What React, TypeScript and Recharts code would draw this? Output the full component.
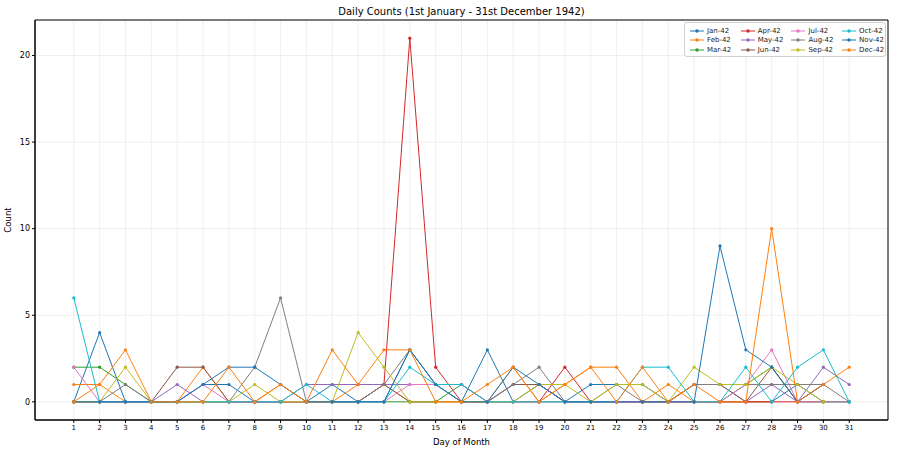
import { LineChart, Line, XAxis, YAxis, CartesianGrid, ReferenceArea, Label } from 'recharts';

const days = Array.from({ length: 31 }, (_, i) => i + 1);
const yTicks = [0, 5, 10, 15, 20];

// counts per day, one list per month (short months end early)
const jan = [0, 4, 0, 0, 0, 1, 1, 0, 0, 0, 1, 0, 0, 3, 1, 0, 3, 0, 1, 0, 1, 1, 1, 0, 0, 0, 0, 0, 1, 0, 0];
const feb = [1, 1, 0, 0, 0, 2, 0, 0, 1, 0, 0, 1, 1, 0, 0, 0, 0, 2, 0, 1, 2, 2, 0, 1, 0, 0, 0, 0];
const mar = [2, 2, 1, 0, 0, 0, 0, 0, 0, 0, 0, 0, 0, 0, 0, 1, 0, 0, 0, 0, 0, 0, 0, 0, 0, 0, 1, 2, 0, 0, 0];
const apr = [0, 0, 0, 0, 0, 0, 0, 0, 0, 0, 0, 0, 1, 21, 2, 0, 0, 0, 0, 2, 0, 0, 0, 0, 0, 0, 0, 0, 0, 1];
const may = [0, 0, 0, 0, 1, 0, 0, 0, 0, 1, 1, 1, 1, 1, 1, 1, 0, 1, 1, 0, 0, 0, 0, 0, 1, 1, 0, 1, 0, 2, 1];
const jun = [0, 0, 0, 0, 2, 2, 0, 0, 0, 0, 0, 0, 1, 0, 0, 0, 0, 1, 1, 0, 0, 0, 0, 0, 1, 1, 0, 2, 0, 0];
const jul = [2, 0, 0, 0, 0, 1, 0, 0, 0, 0, 0, 0, 0, 1, 1, 1, 0, 0, 0, 0, 0, 0, 0, 0, 0, 0, 1, 3, 0, 0, 0];
const aug = [0, 0, 1, 0, 0, 0, 0, 2, 6, 0, 0, 0, 1, 3, 1, 0, 0, 1, 2, 0, 0, 1, 0, 0, 1, 1, 1, 1, 1, 1, 0];
const sep = [0, 0, 2, 0, 0, 0, 0, 1, 0, 0, 0, 4, 2, 0, 0, 0, 0, 0, 1, 1, 0, 1, 1, 0, 2, 1, 1, 2, 1, 0];
const oct = [6, 0, 0, 0, 0, 0, 0, 0, 0, 1, 0, 0, 0, 2, 1, 1, 0, 0, 0, 0, 0, 0, 2, 2, 0, 0, 2, 0, 2, 3, 0];
const nov = [0, 0, 0, 0, 0, 1, 2, 2, 1, 0, 0, 0, 0, 3, 1, 0, 0, 2, 1, 0, 0, 0, 0, 0, 0, 9, 3, 2, 0, 1];
const dec = [0, 1, 3, 0, 0, 0, 2, 0, 1, 0, 3, 1, 3, 3, 0, 0, 1, 2, 0, 1, 2, 0, 2, 0, 1, 0, 0, 10, 0, 1, 2];

const series = [
  { key: 'Jan-42', values: jan, color: '#1f77b4' },
  { key: 'Feb-42', values: feb, color: '#ff7f0e' },
  { key: 'Mar-42', values: mar, color: '#2ca02c' },
  { key: 'Apr-42', values: apr, color: '#d62728' },
  { key: 'May-42', values: may, color: '#9467bd' },
  { key: 'Jun-42', values: jun, color: '#8c564b' },
  { key: 'Jul-42', values: jul, color: '#e377c2' },
  { key: 'Aug-42', values: aug, color: '#7f7f7f' },
  { key: 'Sep-42', values: sep, color: '#bcbd22' },
  { key: 'Oct-42', values: oct, color: '#17becf' },
  { key: 'Nov-42', values: nov, color: '#1f77b4' },
  { key: 'Dec-42', values: dec, color: '#ff7f0e' },
];

const data = days.map((d, i) => {
  const row: Record<string, number> = { day: d };
  for (const s of series) {
    if (i < s.values.length) row[s.key] = s.values[i];
  }
  return row;
});

const FONT = '"DejaVu Sans", sans-serif';

// matplotlib-style legend: 4 columns, filled column by column
const LegendBox = () => {
  const cols = [0, 1, 2, 3].map((c) => series.slice(c * 3, c * 3 + 3));
  return (
    <div
      style={{
        position: 'absolute',
        top: 22,
        left: 684,
        width: 202,
        height: 35,
        boxSizing: 'border-box',
        display: 'flex',
        padding: '3px 0 0 5px',
        border: '1px solid #d0d0d0',
        borderRadius: 3,
        background: 'rgba(255,255,255,0.85)',
        fontFamily: FONT,
        fontSize: 7,
        color: '#222',
        whiteSpace: 'nowrap',
      }}
    >
      {cols.map((col, ci) => (
        <div key={ci} style={{ display: 'flex', flexDirection: 'column', width: ci < 3 ? 52 : 44 }}>
          {col.map((s) => (
            <div key={s.key} style={{ display: 'flex', alignItems: 'center', height: 9.5 }}>
              <svg width={14} height={6} style={{ marginRight: 3 }}>
                <line x1={0} y1={3} x2={14} y2={3} stroke={s.color} strokeWidth={1} />
                <circle cx={7} cy={3} r={1.7} fill={s.color} />
              </svg>
              <span>{s.key}</span>
            </div>
          ))}
        </div>
      ))}
    </div>
  );
};

export default function App() {
  return (
    <div style={{ position: 'absolute', left: 0, top: 0, width: 900, height: 450, background: '#fff' }}>
      <div
        style={{
          position: 'absolute',
          top: 6,
          left: 35,
          width: 853,
          textAlign: 'center',
          fontFamily: FONT,
          fontSize: 10,
          color: '#000',
        }}
      >
        Daily Counts (1st January - 31st December 1942)
      </div>
      <LineChart width={900} height={450} data={data} margin={{ top: 20, right: 12, left: 0, bottom: 0 }}>
        <CartesianGrid stroke="#ebebeb" strokeWidth={0.8} />
        <XAxis
          dataKey="day"
          type="number"
          domain={[-0.5, 32.5]}
          ticks={days}
          interval={0}
          height={30}
          allowDataOverflow
          tick={{ fontSize: 7, fill: '#000', fontFamily: FONT }}
          tickSize={3}
          stroke="#000"
        >
          <Label value="Day of Month" position="insideBottom" offset={5} style={{ fontSize: 8.5, fill: '#000', fontFamily: FONT }} />
        </XAxis>
        <YAxis
          type="number"
          domain={[-1.05, 22.05]}
          ticks={yTicks}
          width={35}
          allowDataOverflow
          tick={{ fontSize: 8, fill: '#000', fontFamily: FONT }}
          tickSize={3}
          stroke="#000"
        >
          <Label value="Count" angle={-90} position="insideLeft" offset={8} style={{ fontSize: 8.5, fill: '#000', fontFamily: FONT, textAnchor: 'middle' }} />
        </YAxis>
        <ReferenceArea x1={-0.5} x2={32.5} y1={-1.05} y2={22.05} fill="none" stroke="#000" strokeWidth={1} ifOverflow="visible" />
        {series.map((s) => (
          <Line
            key={s.key}
            dataKey={s.key}
            name={s.key}
            stroke={s.color}
            strokeWidth={1}
            dot={{ r: 1.6, fill: s.color, stroke: s.color, strokeWidth: 0 }}
            activeDot={false}
            isAnimationActive={false}
          />
        ))}
      </LineChart>
      <LegendBox />
    </div>
  );
}
